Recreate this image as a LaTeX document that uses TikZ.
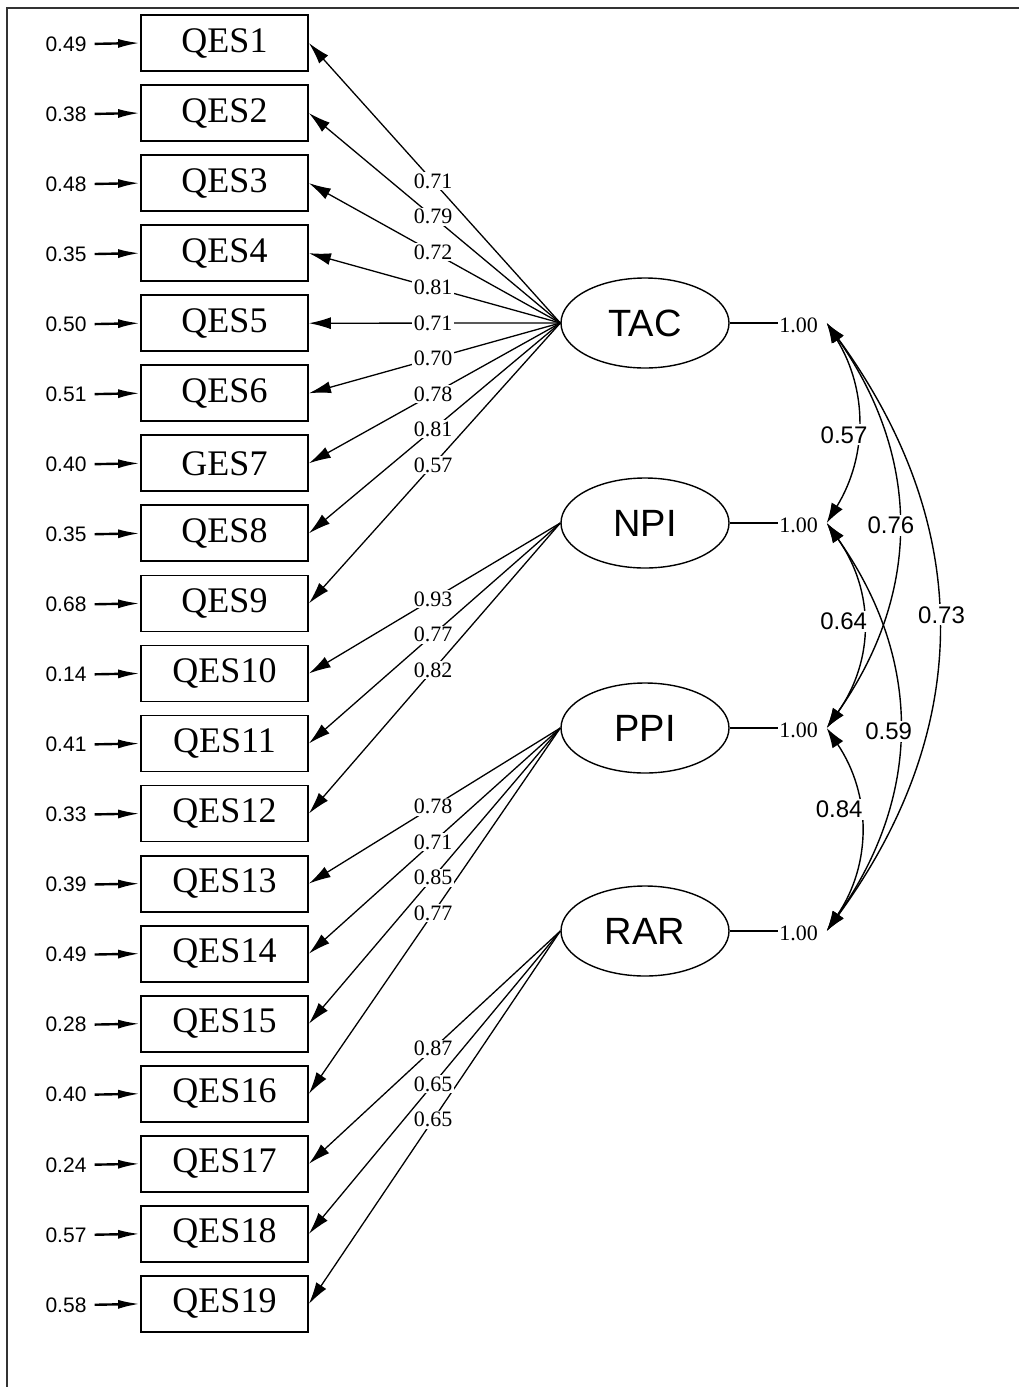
\documentclass[tikz,border=0pt]{standalone}
\usepackage{fontspec}
\setmainfont{Liberation Serif}
\newfontfamily\labsans{Liberation Sans}
\usetikzlibrary{shapes.geometric,arrows.meta}

\begin{document}
\begin{tikzpicture}[x=1pt,y=-1pt,
  obs/.style={draw, line width=1.8pt, minimum width=167pt, minimum height=56pt,
    inner sep=0pt, font=\fontsize{36}{40}\selectfont},
  lat/.style={ellipse, draw, line width=1.4pt, minimum width=168pt, minimum height=90pt,
    inner sep=0pt, font=\labsans\fontsize{38}{42}\selectfont},
  errlab/.style={font=\labsans\fontsize{21}{24}\selectfont, inner sep=1pt},
  loadlab/.style={fill=white, inner sep=1.5pt, font=\fontsize{22}{24}\selectfont},
  varlab/.style={font=\fontsize{22}{24}\selectfont, inner sep=1pt},
  covlab/.style={fill=white, inner sep=2pt, font=\labsans\fontsize{24}{28}\selectfont},
  errarrow/.style={-{Latex[length=22pt,width=9pt]}, line width=2.4pt},
  loadarrow/.style={-{Latex[length=22pt,width=12pt]}, line width=1.3pt},
  covarrow/.style={{Latex[length=20pt,width=13pt]}-{Latex[length=20pt,width=13pt]}, line width=1.4pt},
  frameline/.style={line width=2pt, black!80}
]
\useasboundingbox (0,0) rectangle (1019,1387);

% frame
\draw[frameline] (7,1387) -- (7,8) -- (1019,8);

% observed indicators with their error variances
\foreach \i/\t/\e in {1/QES1/0.49, 2/QES2/0.38, 3/QES3/0.48, 4/QES4/0.35, 5/QES5/0.50,
    6/QES6/0.51, 7/GES7/0.40, 8/QES8/0.35, 9/QES9/0.68, 10/QES10/0.14, 11/QES11/0.41,
    12/QES12/0.33, 13/QES13/0.39, 14/QES14/0.49, 15/QES15/0.28, 16/QES16/0.40,
    17/QES17/0.24, 18/QES18/0.57, 19/QES19/0.58}{
  \node[obs] (q\i) at (224.5,{43+70.05*(\i-1)}) {\t};
  \node[errlab] (e\i) at (66,{44+70.05*(\i-1)}) {\e};
  \draw[errarrow, shorten <=7pt] (e\i.east) -- (q\i.west);
}

% latent factors
\node[lat] (TAC) at (645,323) {TAC};
\node[lat] (NPI) at (645,523) {NPI};
\node[lat] (PPI) at (645,728) {PPI};
\node[lat] (RAR) at (645,931) {RAR};

% factor variances
\foreach \f in {TAC,NPI,PPI,RAR}{
  \path (\f.east) ++(69,2) node[varlab] (v\f) {1.00};
  \draw[line width=1.4pt] (\f.east) -- (v\f.west |- \f.east);
  \coordinate (c\f) at ([xshift=97pt]\f.east);
}

% factor loadings: arrows first, labels on top
\foreach \f/\i in {TAC/1,TAC/2,TAC/3,TAC/4,TAC/5,TAC/6,TAC/7,TAC/8,TAC/9,
    NPI/10,NPI/11,NPI/12,PPI/13,PPI/14,PPI/15,PPI/16,RAR/17,RAR/18,RAR/19}{
  \draw[loadarrow] (\f.west) -- (q\i.east);
}
\foreach \f/\i/\l in {TAC/1/0.71,TAC/2/0.79,TAC/3/0.72,TAC/4/0.81,TAC/5/0.71,
    TAC/6/0.70,TAC/7/0.78,TAC/8/0.81,TAC/9/0.57,
    NPI/10/0.93,NPI/11/0.77,NPI/12/0.82,
    PPI/13/0.78,PPI/14/0.71,PPI/15/0.85,PPI/16/0.77,
    RAR/17/0.87,RAR/18/0.65,RAR/19/0.65}{
  \path (\f.west) -- (q\i.east) node[loadlab, pos=0.506] {\l};
}

% factor covariances: curves first, labels on top
\draw[covarrow] (cTAC) .. controls +(41,67) and +(41,-67) .. (cNPI);
\draw[covarrow] (cNPI) .. controls +(48,68) and +(48,-68) .. (cPPI);
\draw[covarrow] (cPPI) .. controls +(45,67) and +(45,-67) .. (cRAR);
\draw[covarrow] (cTAC) .. controls +(95,135) and +(95,-135) .. (cPPI);
\draw[covarrow] (cNPI) .. controls +(96,136) and +(96,-136) .. (cRAR);
\draw[covarrow] (cTAC) .. controls +(148,203) and +(148,-203) .. (cRAR);

\path (cTAC) .. controls +(41,67) and +(41,-67) .. (cNPI)
  node[covlab, pos=0.56, xshift=-13pt] {0.57};
\path (cNPI) .. controls +(48,68) and +(48,-68) .. (cPPI)
  node[covlab, pos=0.48, xshift=-19pt] {0.64};
\path (cPPI) .. controls +(45,67) and +(45,-67) .. (cRAR)
  node[covlab, pos=0.40, xshift=-20pt] {0.84};
\path (cTAC) .. controls +(95,135) and +(95,-135) .. (cPPI)
  node[covlab, pos=0.50, xshift=-7pt] {0.76};
\path (cNPI) .. controls +(96,136) and +(96,-136) .. (cRAR)
  node[covlab, pos=0.51, xshift=-10pt] {0.59};
\path (cTAC) .. controls +(148,203) and +(148,-203) .. (cRAR)
  node[covlab, pos=0.48, xshift=4pt] {0.73};
\end{tikzpicture}
\end{document}
